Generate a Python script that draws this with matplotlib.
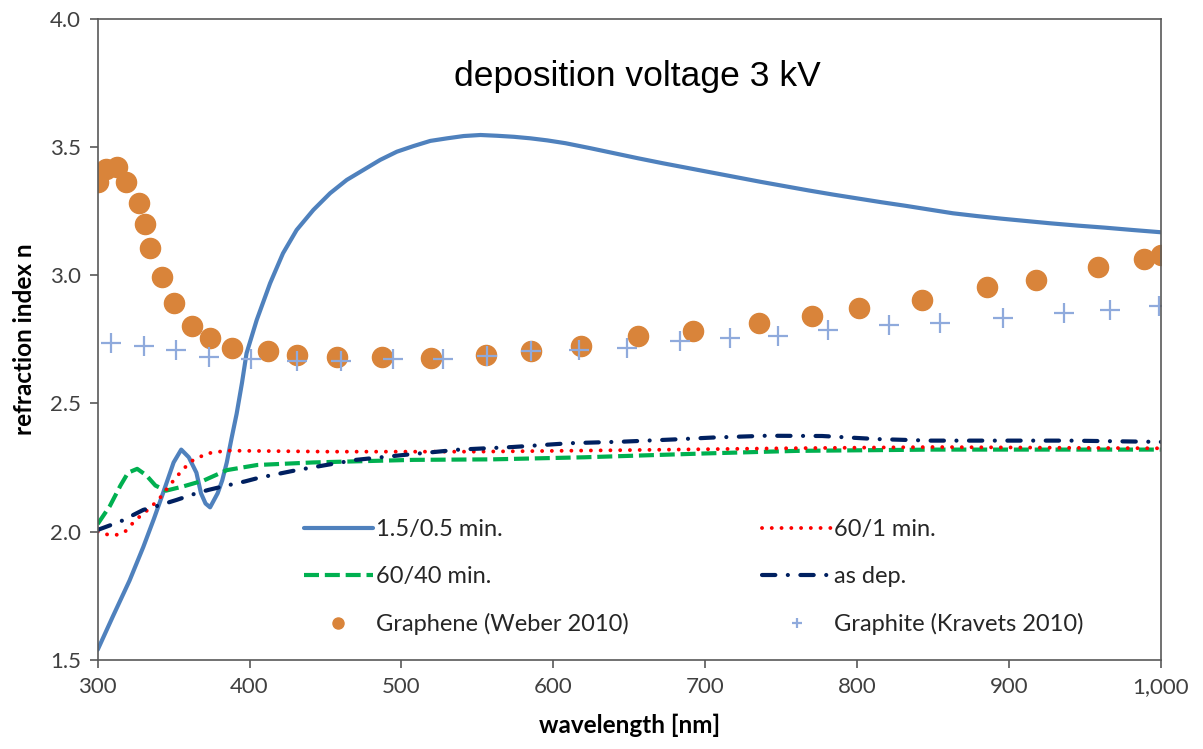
import matplotlib
matplotlib.use("Agg")
import matplotlib.pyplot as plt
from matplotlib.ticker import FuncFormatter, MultipleLocator

# 1.5/0.5 min. anneal
wl_a = [300, 310, 321, 330, 337, 343, 350, 355, 360, 365, 368, 371, 374, 379, 382, 385, 388,
        391.5, 395, 398, 404.7, 413.5, 422, 431, 442, 453, 464, 475, 486, 497, 508, 519,
        530, 541, 552, 563, 574, 585, 596, 608, 624, 640, 656, 672, 688, 704, 720, 736,
        752, 768, 784, 800, 816, 832, 848, 863, 879, 895, 911, 927, 945, 963, 981, 1000]
n_a = [1.54, 1.67, 1.81, 1.94, 2.05, 2.15, 2.27, 2.32, 2.29, 2.23, 2.15, 2.11, 2.095, 2.15,
       2.20, 2.27, 2.36, 2.46, 2.58, 2.695, 2.825, 2.968, 3.085, 3.176, 3.254, 3.319, 3.371,
       3.41, 3.449, 3.481, 3.503, 3.523, 3.533, 3.542, 3.546, 3.543, 3.539, 3.533, 3.525,
       3.514, 3.495, 3.475, 3.455, 3.436, 3.418, 3.40, 3.382, 3.364, 3.347, 3.33, 3.314,
       3.299, 3.284, 3.27, 3.255, 3.241, 3.23, 3.22, 3.211, 3.202, 3.193, 3.185, 3.176, 3.167]

# 60/1 min.
wl_b = [300, 305, 312, 318, 325, 332, 340, 346, 352, 361, 372, 385, 450, 550, 650, 750, 850, 1000]
n_b = [2.0, 1.99, 1.987, 2.0, 2.046, 2.08, 2.124, 2.17, 2.215, 2.273, 2.305, 2.316, 2.312,
       2.312, 2.318, 2.325, 2.33, 2.325]

# 60/40 min.
wl_c = [300, 308, 315, 320, 326, 332, 338, 345, 356, 370, 385, 405, 442, 508, 560, 620, 700,
        760, 850, 1000]
n_c = [2.03, 2.10, 2.18, 2.23, 2.245, 2.22, 2.18, 2.16, 2.176, 2.20, 2.24, 2.26, 2.27, 2.28,
       2.282, 2.29, 2.305, 2.315, 2.32, 2.32]

# as dep.
wl_d = [300, 315, 330, 339, 352, 365, 373, 385, 397, 406, 431, 470, 503, 538, 573, 611, 646,
        681, 705, 740, 777, 813, 848, 885, 940, 1000]
n_d = [2.007, 2.04, 2.085, 2.10, 2.124, 2.15, 2.163, 2.18, 2.196, 2.21, 2.24, 2.28, 2.30,
       2.32, 2.33, 2.345, 2.351, 2.36, 2.367, 2.374, 2.373, 2.361, 2.355, 2.355, 2.355, 2.35]

# Graphene (Weber 2010)
wl_gr = [300, 305.5, 312.9, 318.6, 327.2, 331.2, 334.5, 342.5, 350.5, 361.9, 374, 388.2,
         411.9, 431, 457.3, 486.9, 519.5, 555.4, 585, 617.9, 655.8, 692, 735.5, 770,
         801.4, 843, 885.5, 917.7, 958.8, 989, 1000]
n_gr = [3.362, 3.412, 3.422, 3.362, 3.28, 3.199, 3.104, 2.994, 2.89, 2.802, 2.754, 2.715,
        2.705, 2.689, 2.68, 2.68, 2.678, 2.689, 2.704, 2.724, 2.763, 2.783, 2.812, 2.84,
        2.87, 2.903, 2.953, 2.981, 3.03, 3.062, 3.078]

# Graphite (Kravets 2010)
wl_gt = [308.6, 330.7, 351.3, 373.5, 400.7, 431, 460, 494.6, 527.6, 556.5, 585, 616.8,
         648.6, 683.3, 716.2, 747.6, 780.6, 821, 854.8, 895.8, 935.9, 966.6, 998.7]
n_gt = [2.737, 2.724, 2.708, 2.68, 2.672, 2.667, 2.667, 2.672, 2.672, 2.685, 2.705, 2.708,
        2.717, 2.744, 2.756, 2.764, 2.786, 2.804, 2.814, 2.833, 2.853, 2.863, 2.88]

fig = plt.figure(figsize=(12.03, 7.49), dpi=100)
ax = fig.add_axes([0.0812, 0.1188, 0.8838, 0.8565])

ax.plot(wl_a, n_a, color="#4F81BD", lw=3.0, solid_capstyle="round", solid_joinstyle="round",
        label="1.5/0.5 min.")
ax.plot(wl_c, n_c, color="#00B050", lw=3.0, ls=(0, (3.6, 1.4)), label="60/40 min.")
ax.plot(wl_gr, n_gr, ls="none", marker="o", ms=14.5, color="#D9843A", label="Graphene (Weber 2010)")
ax.plot(wl_b, n_b, color="#FF0000", lw=2.8, ls=(0, (0.01, 2.5)), dash_capstyle="round",
        label="60/1 min.")
ax.plot(wl_d, n_d, color="#002060", lw=3.0, ls=(0, (3.2, 3.0, 0.01, 3.0)),
        dash_capstyle="round", label="as dep.")
ax.plot(wl_gt, n_gt, ls="none", marker="+", ms=14, mew=1.6, color="#8FAADC",
        label="Graphite (Kravets 2010)")

ax.set_xlim(300, 1000)
ax.set_ylim(1.5, 4.0)
ax.xaxis.set_major_locator(MultipleLocator(100))
ax.yaxis.set_major_locator(MultipleLocator(0.5))
ax.xaxis.set_major_formatter(FuncFormatter(lambda v, p: f"{v:,.0f}"))
ax.yaxis.set_major_formatter(FuncFormatter(lambda v, p: f"{v:.1f}"))

for s in ax.spines.values():
    s.set_color("#595959")
    s.set_linewidth(1.2)
ax.tick_params(direction="out", length=6, width=1.2, color="#595959",
               labelsize=16, labelcolor="#404040", pad=6)
for lab in ax.get_xticklabels() + ax.get_yticklabels():
    lab.set_family("Lato")

ax.set_xlabel("wavelength [nm]", fontsize=17.5, fontweight="bold", family="Lato", labelpad=12)
ax.set_ylabel("refraction index n", fontsize=17.5, fontweight="bold", family="Lato", labelpad=10)

ax.text(0.508, 0.91, "deposition voltage 3 kV", transform=ax.transAxes, ha="center",
        va="center", fontsize=25.5, family="Liberation Sans", color="black")

ax.legend(ncol=2, loc="upper left", bbox_to_anchor=(0.243, 0.323),
          bbox_transform=fig.transFigure, frameon=False, prop={"family": "Lato", "size": 17},
          handlelength=2.9, handletextpad=0.15, columnspacing=5.65, labelspacing=1.1,
          markerscale=0.55, borderpad=0, labelcolor="#262626")

fig.savefig("out.png", dpi=100)
